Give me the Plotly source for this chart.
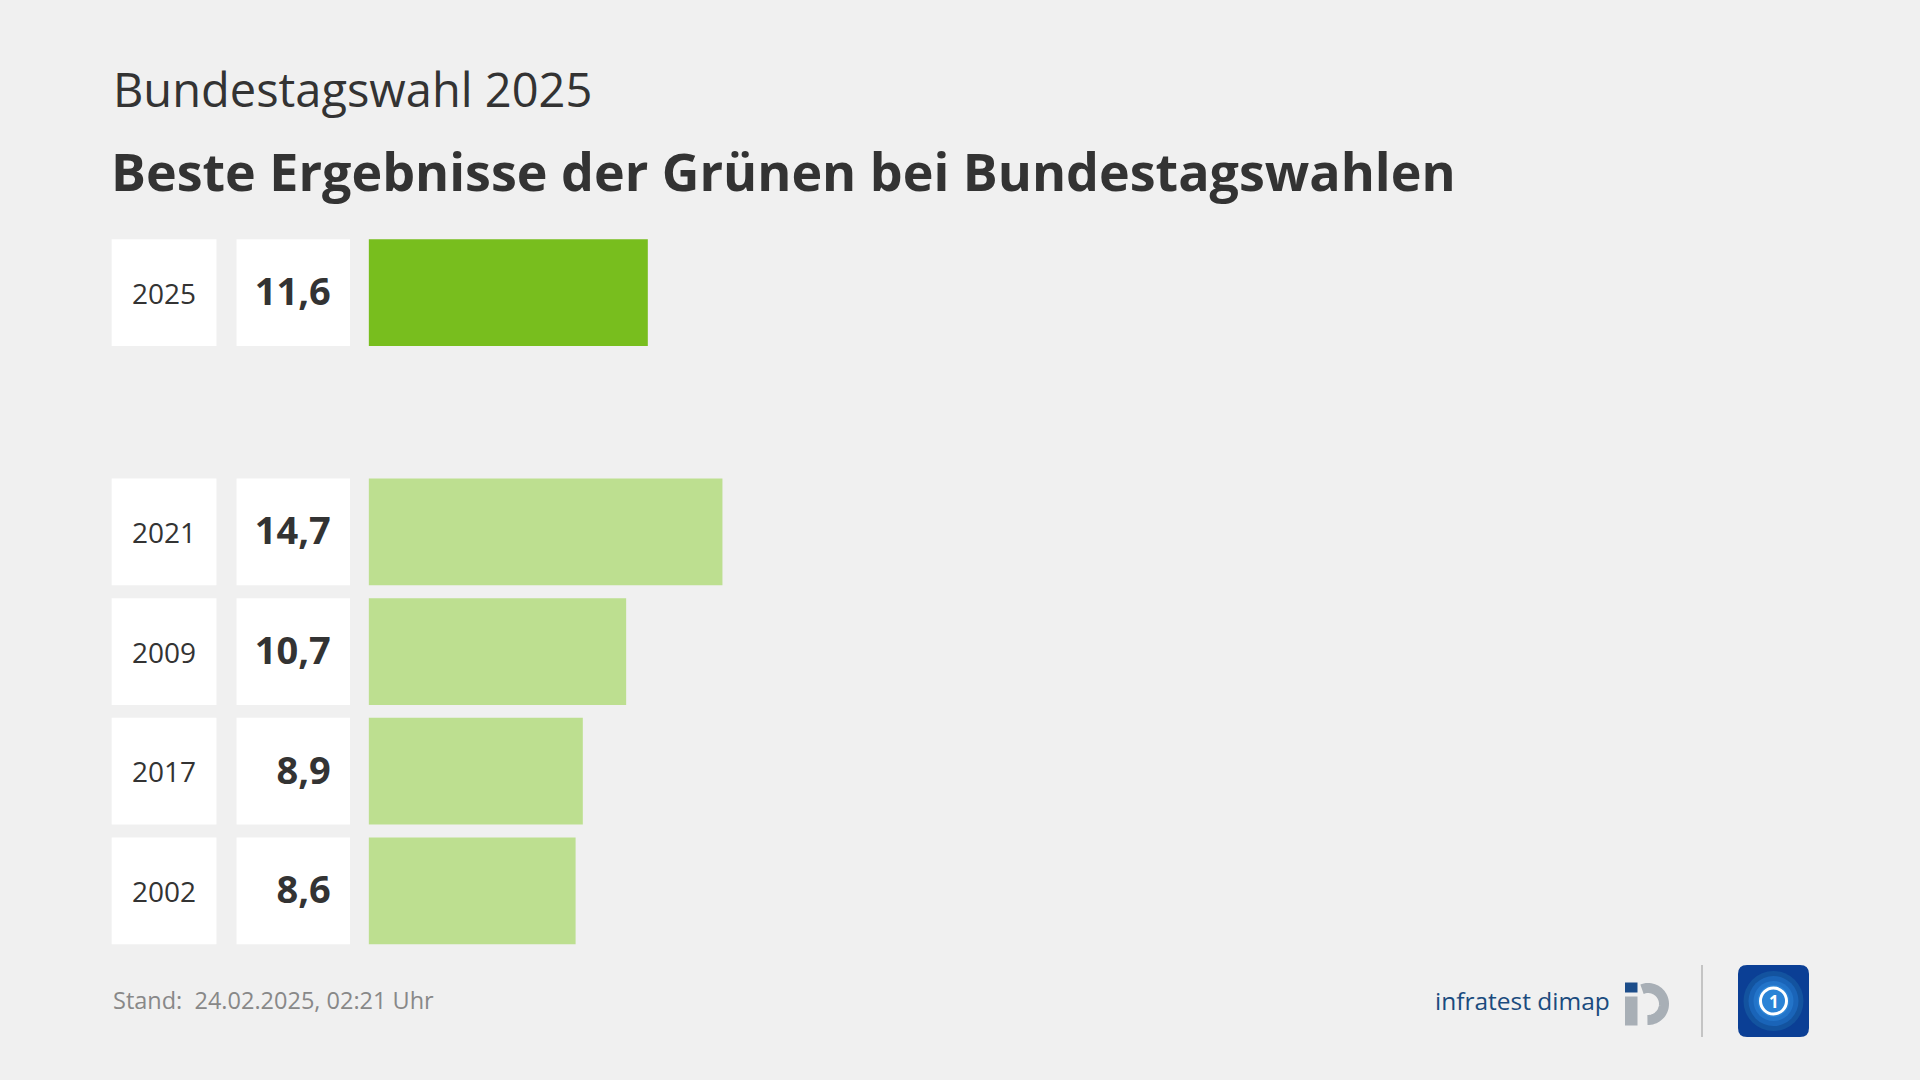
import numpy as np
import plotly.graph_objects as go

# ---------------- data ----------------
years = ["2025", "2021", "2009", "2017", "2002"]
values = [11.6, 14.7, 10.7, 8.9, 8.6]
current_year = "2025"
slot_order = ["2025", " ", "2021", "2009", "2017", "2002"]  # " " = spacer slot

subtitle = "Bundestagswahl 2025"
title = "Beste Ergebnisse der Grünen bei Bundestagswahlen"
footer = "Stand:\u00a0 24.02.2025, 02:21 Uhr"
brand = "infratest dimap"

# ---------------- style ----------------
W, H = 1920, 1080
BG = "#f0f0f0"
TXT = "#333333"
DARK_GREEN = "#78be1e"
LIGHT_GREEN = "#bddf90"
FONT = "Open Sans"


def px(x):
    return x / W


def py(y):
    return 1 - y / H


value_labels = [f"{v:.1f}".replace(".", ",") for v in values]
bar_colors = [DARK_GREEN if y == current_year else LIGHT_GREEN for y in years]
BW = 0.893

fig = go.Figure()

# year boxes
fig.add_trace(go.Bar(
    y=years, x=[1] * len(years), orientation="h", width=BW,
    marker=dict(color="white", line=dict(width=0)),
    text=years, textposition="inside", insidetextanchor="middle",
    textfont=dict(family=FONT, size=28, color=TXT),
    xaxis="x2", yaxis="y", hoverinfo="skip", showlegend=False,
))
# value boxes
fig.add_trace(go.Bar(
    y=years, x=[1] * len(years), orientation="h", width=BW,
    marker=dict(color="white", line=dict(width=0)),
    xaxis="x3", yaxis="y", hoverinfo="skip", showlegend=False,
))
fig.add_trace(go.Scatter(
    y=years, x=[0.83] * len(years), mode="text",
    text=[f"<b>{t}</b>" for t in value_labels], textposition="middle left",
    textfont=dict(family=FONT, size=38, color=TXT),
    xaxis="x3", yaxis="y2", hoverinfo="skip", showlegend=False,
))
# data bars
fig.add_trace(go.Bar(
    y=years, x=values, orientation="h", width=BW,
    marker=dict(color=bar_colors, line=dict(width=0)),
    xaxis="x", yaxis="y", hoverinfo="skip", showlegend=False,
))

PX_PER_UNIT = 24.07
BAR_X0 = 368.6
Y_TOP, Y_BOT = 232.9, 950.6
hidden = dict(showgrid=False, zeroline=False, showticklabels=False, showline=False, ticks="")
ycat = dict(type="category", categoryorder="array", categoryarray=slot_order,
            range=[len(slot_order) - 0.5, -0.5], fixedrange=True, **hidden)

fig.update_layout(
    width=W, height=H,
    margin=dict(l=0, r=0, t=0, b=0),
    paper_bgcolor=BG, plot_bgcolor="rgba(0,0,0,0)",
    barmode="overlay",
    xaxis=dict(domain=[px(BAR_X0), 1], range=[0, (W - BAR_X0) / PX_PER_UNIT], anchor="y", fixedrange=True, **hidden),
    xaxis2=dict(domain=[px(111.4), px(216.7)], range=[0, 1], anchor="y", fixedrange=True, **hidden),
    xaxis3=dict(domain=[px(236.3), px(350.2)], range=[0, 1], anchor="y", fixedrange=True, **hidden),
    yaxis=dict(domain=[py(Y_BOT), py(Y_TOP)], **ycat),
    yaxis2=dict(domain=[py(Y_BOT + 3), py(Y_TOP + 3)], anchor="x3", **ycat),
    font=dict(family=FONT, color=TXT),
)

ann = [
    dict(text=subtitle, x=px(111), y=py(89), xanchor="left", yanchor="middle",
         font=dict(family=FONT, size=47, color=TXT)),
    dict(text=f"<b>{title}</b>", x=px(109), y=py(170), xanchor="left", yanchor="middle",
         font=dict(family=FONT, size=52, color=TXT)),
    dict(text=footer, x=px(111), y=py(1000), xanchor="left", yanchor="middle",
         font=dict(family=FONT, size=23.5, color="#888888")),
    dict(text=brand, x=px(1612), y=py(1000), xanchor="right", yanchor="middle",
         font=dict(family=FONT, size=24.5, color="#1a4b7e")),
    dict(text="<b>1</b>", x=px(1774), y=py(1001), xanchor="center", yanchor="middle",
         font=dict(family=FONT, size=17, color="white")),
]
for a in ann:
    a.update(xref="paper", yref="paper", showarrow=False)
fig.update_layout(annotations=ann)


def ppath(points, close=False):
    s = "M " + " L ".join(f"{px(x):.5f},{py(y):.5f}" for x, y in points)
    return s + (" Z" if close else "")


def rrect(x0, y0, x1, y1, r):
    return (f"M {px(x0 + r)},{py(y0)} L {px(x1 - r)},{py(y0)} Q {px(x1)},{py(y0)} {px(x1)},{py(y0 + r)} "
            f"L {px(x1)},{py(y1 - r)} Q {px(x1)},{py(y1)} {px(x1 - r)},{py(y1)} "
            f"L {px(x0 + r)},{py(y1)} Q {px(x0)},{py(y1)} {px(x0)},{py(y1 - r)} "
            f"L {px(x0)},{py(y0 + r)} Q {px(x0)},{py(y0)} {px(x0 + r)},{py(y0)} Z")


shapes = []
# infratest dimap logo
shapes.append(dict(type="rect", x0=px(1625), x1=px(1637.5), y0=py(992.5), y1=py(982.5),
                   fillcolor="#1c4d8a", line=dict(width=0)))
shapes.append(dict(type="rect", x0=px(1625), x1=px(1637.5), y0=py(1025.5), y1=py(996.5),
                   fillcolor="#a8afb6", line=dict(width=0)))
ang = np.radians(np.linspace(112, -92, 40))
arc = [(1648 + 16 * np.cos(a), 1004 - 16 * np.sin(a)) for a in ang]
shapes.append(dict(type="path", path=ppath(arc), line=dict(color="#a8afb6", width=10)))
# separator
shapes.append(dict(type="line", x0=px(1702), x1=px(1702), y0=py(965), y1=py(1037),
                   line=dict(color="#c4c4c4", width=2)))
# tagesschau logo
shapes.append(dict(type="path", path=rrect(1738, 965, 1809, 1037, 9), fillcolor="#0b3f95", line=dict(width=0)))
for r, c in [(30, "#13539f"), (25, "#1a64b8"), (20, "#2374c9"), (16, "#2b83d6")]:
    shapes.append(dict(type="circle", x0=px(1773.5 - r), x1=px(1773.5 + r), y0=py(1001 + r), y1=py(1001 - r),
                       fillcolor=c, line=dict(width=0)))
shapes.append(dict(type="circle", x0=px(1773.5 - 13), x1=px(1773.5 + 13), y0=py(1001 + 13), y1=py(1001 - 13),
                   fillcolor="rgba(0,0,0,0)", line=dict(color="white", width=3)))
for s in shapes:
    s.update(xref="paper", yref="paper", layer="above")
fig.update_layout(shapes=shapes)

fig.write_html("out.html", config={"displayModeBar": False},
               post_script="document.body.style.margin='0';document.body.style.overflow='hidden';")
